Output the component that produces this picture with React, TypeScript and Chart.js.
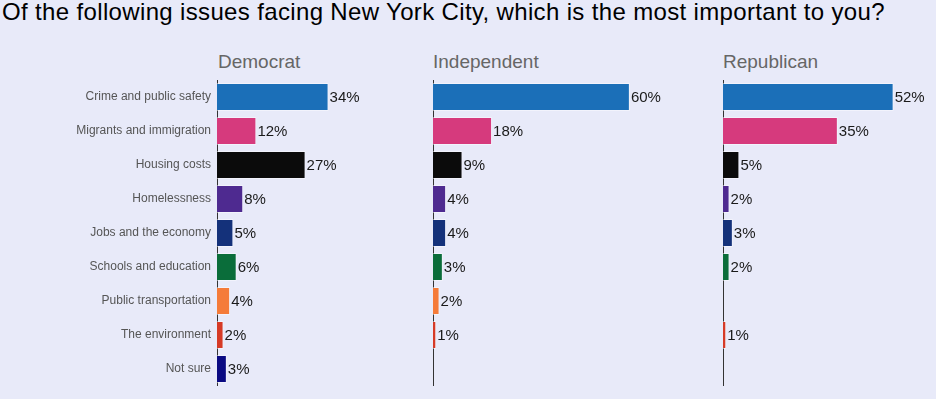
import React, { useEffect, useRef } from "react";
import { Chart, registerables } from "chart.js";

Chart.register(...registerables);

const titleText = "Of the following issues facing New York City, which is the most important to you?";
const categories = [
  "Crime and public safety",
  "Migrants and immigration",
  "Housing costs",
  "Homelessness",
  "Jobs and the economy",
  "Schools and education",
  "Public transportation",
  "The environment",
  "Not sure",
];
const democrat = [34, 12, 27, 8, 5, 6, 4, 2, 3];
const independent = [60, 18, 9, 4, 4, 3, 2, 1, null];
const republican = [52, 35, 5, 2, 3, 2, null, 1, null];
const panelTitles = ["Democrat", "Independent", "Republican"];
const barColors = [
  "#1b6fb8",
  "#d63a7d",
  "#0b0b0b",
  "#4e2a90",
  "#14317a",
  "#0a6d3a",
  "#f57b39",
  "#d63a26",
  "#0a0a82",
];

const FONT = 'Arial, "Liberation Sans", sans-serif';
const BG = "#e8eaf9";
const X_MAX = 64;

const valueLabels = {
  id: "valueLabels",
  afterDatasetsDraw(chart: any) {
    const ctx = chart.ctx;
    const meta = chart.getDatasetMeta(0);
    const data = chart.data.datasets[0].data;
    ctx.save();
    ctx.font = `15px ${FONT}`;
    ctx.fillStyle = "#1a1a1a";
    ctx.textBaseline = "middle";
    ctx.textAlign = "left";
    meta.data.forEach((bar: any, i: number) => {
      const v = data[i];
      if (v == null) return;
      ctx.fillText(`${v}%`, bar.x + 1, bar.y + 1);
    });
    ctx.restore();
  },
};

type PanelProps = {
  values: (number | null)[];
  left: number;
  width: number;
  axisOffset: number;
  showLabels: boolean;
};

function Panel({ values, left, width, axisOffset, showLabels }: PanelProps) {
  const ref = useRef<HTMLCanvasElement | null>(null);
  useEffect(() => {
    if (!ref.current) return;
    const chart = new Chart(ref.current, {
      type: "bar",
      data: {
        labels: categories,
        datasets: [
          {
            data: values as any,
            backgroundColor: barColors,
            borderColor: "rgba(255,255,255,0.45)",
            borderWidth: 1,
            barPercentage: 0.82,
            categoryPercentage: 1,
          },
        ],
      },
      options: {
        indexAxis: "y",
        animation: false,
        responsive: false,
        maintainAspectRatio: false,
        layout: { padding: { left: 0, right: width - axisOffset - 210, top: 0, bottom: 0 } },
        plugins: {
          legend: { display: false },
          tooltip: { enabled: false },
          title: { display: false },
        },
        scales: {
          x: { display: false, min: 0, max: X_MAX },
          y: {
            grid: { display: false, drawTicks: false },
            border: { display: true, color: "#333", width: 1 },
            ticks: {
              display: showLabels,
              color: "#555",
              padding: 6,
              font: { size: 12, family: FONT },
            },
            afterFit: (s: any) => {
              s.width = axisOffset;
              s.paddingTop = 0;
              s.paddingBottom = 0;
            },
          },
        },
      },
      plugins: [valueLabels],
    });
    return () => chart.destroy();
  }, []);
  return (
    <canvas
      ref={ref}
      width={width}
      height={306}
      style={{ position: "absolute", left, top: 80, width, height: 306 }}
    />
  );
}

export default function App() {
  useEffect(() => {
    document.body.style.margin = "0";
    document.body.style.background = BG;
  }, []);
  const titleLeft = [218, 433, 723];
  return (
    <div style={{ position: "relative", width: 936, height: 399, background: BG, overflow: "hidden", fontFamily: FONT }}>
      <div style={{ position: "absolute", left: 2, top: -2, fontSize: 24, letterSpacing: "0.35px", lineHeight: "28px", color: "#000", whiteSpace: "nowrap" }}>
        {titleText}
      </div>
      {panelTitles.map((t, i) => (
        <div
          key={t}
          style={{ position: "absolute", left: titleLeft[i], top: 51, fontSize: 19, lineHeight: "22px", color: "#666", whiteSpace: "nowrap" }}
        >
          {t}
        </div>
      ))}
      <Panel values={democrat} left={0} width={467} axisOffset={217} showLabels={true} />
      <Panel values={independent} left={423} width={260} axisOffset={10} showLabels={false} />
      <Panel values={republican} left={713} width={223} axisOffset={10} showLabels={false} />
    </div>
  );
}
